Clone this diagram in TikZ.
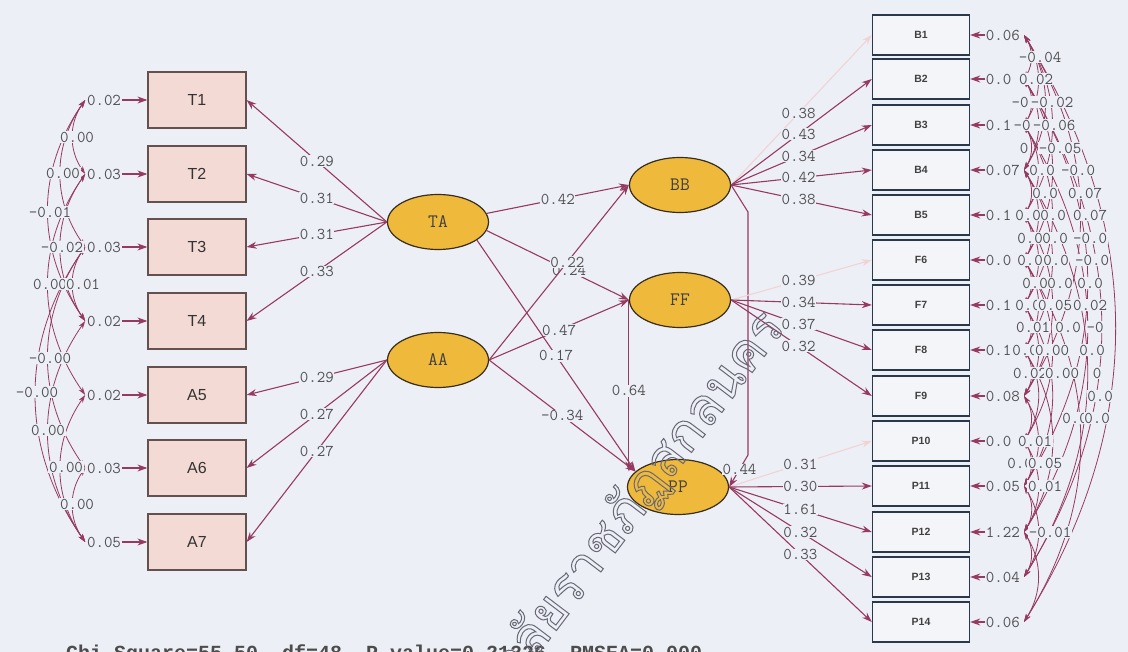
\documentclass[tikz,border=0pt]{standalone}
\usepackage{fontspec}
\setmainfont{Liberation Sans}
\setmonofont{Latin Modern Mono}
\newfontfamily\monob{Liberation Mono}
\newfontfamily\thaif[Script=Thai]{Loma}
\usetikzlibrary{arrows.meta,shapes.geometric}
\definecolor{bgc}{RGB}{237,239,246}
\definecolor{arc}{RGB}{150,58,98}
\definecolor{faintc}{RGB}{240,212,212}
\definecolor{lblc}{RGB}{80,80,84}
\definecolor{pinkf}{RGB}{243,218,212}
\definecolor{pinkd}{RGB}{100,80,78}
\definecolor{latf}{RGB}{239,185,60}
\definecolor{latd}{RGB}{55,45,30}
\definecolor{obsf}{RGB}{244,245,249}
\definecolor{obsd}{RGB}{42,56,76}
\definecolor{wmc}{RGB}{105,105,118}
\begin{document}
\begin{tikzpicture}[x=1pt,y=-1pt,
  lbl/.style={font=\ttfamily\fontsize{16.5}{17}\selectfont, text=lblc, fill=bgc, inner sep=0.6pt},
  obsL/.style={rectangle, draw=pinkd, line width=1.2pt, fill=pinkf, minimum width=98pt, minimum height=56pt, inner sep=0pt, font=\fontsize{16}{18}\selectfont, text=black!80},
  obsR/.style={rectangle, draw=obsd, line width=1.4pt, fill=obsf, minimum width=97pt, minimum height=40pt, inner sep=0pt, font=\bfseries\fontsize{10.5}{12}\selectfont, text=black!75},
  lat/.style={ellipse, draw=latd, line width=1.2pt, fill=latf, minimum width=101pt, minimum height=55pt, inner sep=0pt, font=\ttfamily\fontsize{19}{20}\selectfont, text=black!75},
  ld/.style={draw=arc, line width=1.1pt, -{Stealth[length=10pt,width=7pt]}},
  fld/.style={draw=faintc, line width=1.1pt, -{Stealth[length=10pt,width=7pt]}},
  cv/.style={draw=arc, line width=0.8pt, {Stealth[length=8pt,width=5pt]}-{Stealth[length=8pt,width=5pt]}}
]
\useasboundingbox (0,0) rectangle (1128,652);
\fill[bgc] (0,0) rectangle (1128,652);

% ---- observed variables, left block
\node[obsL] (T1) at (197,100) {T1};
\node[obsL] (T2) at (197,174) {T2};
\node[obsL] (T3) at (197,247) {T3};
\node[obsL] (T4) at (197,321) {T4};
\node[obsL] (A5) at (197,395) {A5};
\node[obsL] (A6) at (197,468) {A6};
\node[obsL] (A7) at (197,542) {A7};

% ---- latent variables
\node[lat] (TA) at (438,222) {TA};
\node[lat] (AA) at (438,360) {AA};
\node[lat] (BB) at (680,185) {BB};
\node[lat] (FF) at (680,300) {FF};
\node[lat] (PP) at (678,487) {PP};

% ---- observed variables, right block
\foreach \n/\y in {B1/35,B2/79,B3/125,B4/170,B5/215,F6/260,F7/305,F8/350,F9/396,P10/441,P11/486,P12/532,P13/577,P14/622}
  \node[obsR] (\n) at (921,\y) {\n};

% ---- error variances, left
\foreach \n/\v in {T1/0.02,T2/0.03,T3/0.03,T4/0.02,A5/0.02,A6/0.03,A7/0.05}{
  \node[lbl] (e\n) at ([xshift=-93pt]\n.center) {\v};
  \draw[ld] (e\n) -- (\n);
  \coordinate (c\n) at ([xshift=-1pt]e\n.west);
}

% ---- error covariances, left
\foreach \a/\b in {T1/T2,T1/T3,T1/T4,T2/T4,T2/A5,T3/T4,T3/A6,T3/A7,T4/A7,A5/A7,A6/A7}
  \draw[cv] (c\a) to[bend right=35] (c\b);
\foreach \x/\y/\t [count=\k] in {77/137/0.00, 63/173/0.00, 50/212/-0.01, 62/247/-0.02, 50/284/0.00, 83/284/0.01, 50/358/-0.00, 37/392/-0.00, 48/430/0.00, 66/467/0.00, 77/504/0.00}
  \node[lbl] (lcv\k) at (\x,\y) {\t};
% variances printed over the covariance values
\foreach \n/\v in {T1/0.02,T2/0.03,T3/0.03,T4/0.02,A5/0.02,A6/0.03,A7/0.05}
  \node[lbl] at (e\n) {\v};

% ---- loadings, left
\draw[ld] (TA.west) -- node[lbl,pos=.5]{0.29} (T1.east);
\draw[ld] (TA.west) -- node[lbl,pos=.5]{0.31} (T2.east);
\draw[ld] (TA.west) -- node[lbl,pos=.5]{0.31} (T3.east);
\draw[ld] (TA.west) -- node[lbl,pos=.5]{0.33} (T4.east);
\draw[ld] (AA.west) -- node[lbl,pos=.5]{0.29} (A5.east);
\draw[ld] (AA.west) -- node[lbl,pos=.5]{0.27} (A6.east);
\draw[ld] (AA.west) -- node[lbl,pos=.5]{0.27} (A7.east);

% ---- structural paths
\draw[ld] (TA.10) -- node[lbl,pos=.5]{0.42} (BB.west);
\draw[ld] (TA.-10) -- node[lbl,pos=.58]{0.24} (FF.west);
\draw[ld] (AA.east) -- node[lbl,pos=.56]{0.22} (BB.west);
\draw[ld] (AA.east) -- node[lbl,pos=.5]{0.47} (FF.west);
\draw[ld] (TA.-25) -- node[lbl,pos=.5]{0.17} (PP.160);
\draw[ld] (AA.east) -- node[lbl,pos=.5]{-0.34} (PP.160);
\draw[ld] (FF.west) -- node[lbl,pos=.53]{0.64} (FF.west |- PP.160);
\coordinate (bk1) at (748,212);
\coordinate (bk2) at (748,455);
\draw[ld] (BB.east) -- (bk1) -- (bk2) -- node[lbl,pos=.45]{0.44} (PP.east);

% ---- loadings, right
\draw[fld] (BB.east) -- node[lbl,pos=.48]{0.38} (B1.west);
\draw[ld] (BB.east) -- node[lbl,pos=.48]{0.43} (B2.west);
\draw[ld] (BB.east) -- node[lbl,pos=.48]{0.34} (B3.west);
\draw[ld] (BB.east) -- node[lbl,pos=.48]{0.42} (B4.west);
\draw[ld] (BB.east) -- node[lbl,pos=.48]{0.38} (B5.west);
\draw[fld] (FF.east) -- node[lbl,pos=.48]{0.39} (F6.west);
\draw[ld] (FF.east) -- node[lbl,pos=.48]{0.34} (F7.west);
\draw[ld] (FF.east) -- node[lbl,pos=.48]{0.37} (F8.west);
\draw[ld] (FF.east) -- node[lbl,pos=.48]{0.32} (F9.west);
\draw[fld] (PP.east) -- node[lbl,pos=.5]{0.31} (P10.west);
\draw[ld] (PP.east) -- node[lbl,pos=.5]{0.30} (P11.west);
\draw[ld] (PP.east) -- node[lbl,pos=.5]{1.61} (P12.west);
\draw[ld] (PP.east) -- node[lbl,pos=.5]{0.32} (P13.west);
\draw[ld] (PP.east) -- node[lbl,pos=.5]{0.33} (P14.west);

% ---- error variances, right
\foreach \n/\v in {B1/0.06,B2/0.0,B3/0.1,B4/0.07,B5/0.1,F6/0.0,F7/0.1,F8/0.1,F9/0.08,P10/0.0,P11/0.05,P12/1.22,P13/0.04,P14/0.06}{
  \node[lbl,anchor=west] (e\n) at ([xshift=64pt]\n.center) {\v};
  \draw[ld] (e\n) -- (\n);
}
\foreach \n/\y in {B1/35,B2/79,B3/125,B4/170,B5/215,F6/260,F7/305,F8/350,F9/396,P10/441,P11/486,P12/532,P13/577,P14/622}
  \coordinate (r\n) at (1024,\y);

% ---- error covariances, right
\foreach \a/\b in {B1/B2,B1/B3,B1/B4,B1/B5,B1/F9,B1/P14,B2/B3,B2/B4,B2/F6,B2/P11,B2/P13,B3/B4,B3/B5,B3/F7,B3/P12,B4/B5,B4/F6,B4/F8,B4/P13,B5/F6,B5/F7,B5/F9,F6/F7,F6/F8,F6/P10,F6/P14,F7/F8,F7/F9,F7/P11,F8/F9,F8/P10,F8/P12,F9/P10,F9/P11,P10/P11,P10/P12,P11/P12,P11/P13,P12/P13,P12/P14}
  \draw[cv] (r\a) to[bend left=32] (r\b);

\foreach \x/\y/\t [count=\k] in {1040/57/-0.04, 1036/79/0.02, 1020/102/-0, 1052/102/-0.02, 1022/125/-0, 1054/125/-0.06, 1024/148/0, 1060/148/-0.05,
  1042/170/0.0, 1078/170/-0.0, 1045/193/0.0, 1085/193/0.07, 1028/215/0.0, 1053/215/0.0, 1090/215/0.07,
  1030/238/0.0, 1055/238/0.0, 1090/238/-0.0, 1030/260/0.0, 1056/260/0.0, 1092/260/-0.0,
  1035/283/0.0, 1060/283/0.0, 1090/283/0.0, 1028/305/0.0, 1055/305/0.05, 1090/305/0.02,
  1033/327/0.01, 1068/327/0.0, 1095/327/-0, 1025/350/0.0, 1052/350/0.00, 1092/350/0.0,
  1030/373/0.02, 1062/373/0.00, 1097/373/0, 1100/396/0.0, 1075/418/0.0, 1097/418/0.0,
  1035/441/0.01, 1020/463/0.0, 1045/463/0.05, 1045/486/0.01, 1050/532/-0.01}
  \node[lbl] (rcv\k) at (\x,\y) {\t};

% ---- fit statistics (runs off the lower edge)
\node[font=\monob\bfseries\fontsize{20}{22}\selectfont, text=black!70, anchor=base west, inner sep=0pt] (fit) at (66,659)
  {Chi-Square=55.50, df=48, P-value=0.21226, RMSEA=0.000};

% ---- watermark
\node[rotate=52.8, anchor=east, inner sep=0pt, text=wmc,
      font=\thaif\fontsize{52}{56}\selectfont] (wm) at (774,318)
  {\special{pdf:literal direct 1 Tr 1.0 w}มหาวิทยาลัยราชภัฏสกลนคร\special{pdf:literal direct 0 Tr}};
\end{tikzpicture}
\end{document}
